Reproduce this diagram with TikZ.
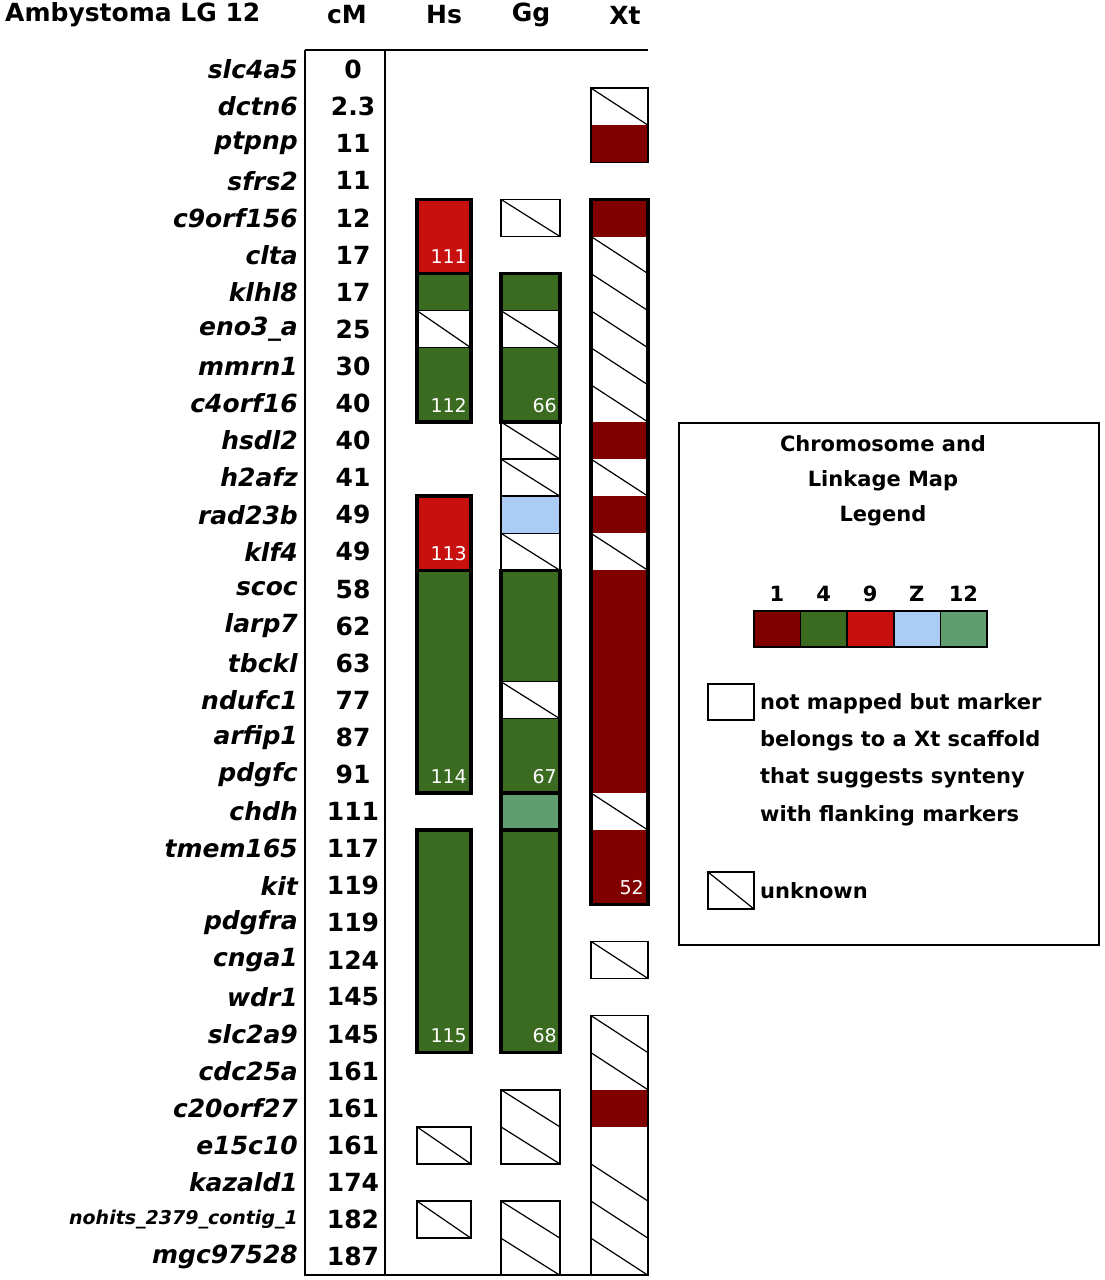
\documentclass[tikz,border=0pt]{standalone}
\usepackage{fontspec}
\setmainfont{DejaVu Sans}
\definecolor{cOne}{HTML}{800000}
\definecolor{cFour}{HTML}{3B6B21}
\definecolor{cNine}{HTML}{C8100F}
\definecolor{cZ}{HTML}{AACCF5}
\definecolor{cTwelve}{HTML}{5F9E6E}
\tikzset{marker/.style={font=\fontsize{25}{25}\selectfont\bfseries\itshape,anchor=east,inner sep=0pt}}
\tikzset{cmval/.style={font=\fontsize{25}{25}\selectfont\bfseries,inner sep=0pt}}
\tikzset{header/.style={font=\fontsize{25}{25}\selectfont\bfseries,inner sep=0pt}}
\tikzset{grouplbl/.style={font=\fontsize{19}{19}\selectfont,text=white,anchor=east,inner sep=0pt}}
\tikzset{legendtxt/.style={font=\fontsize{21}{21}\selectfont\bfseries,anchor=west,inner sep=0pt}}
\tikzset{bold box/.style={draw,line width=3.5pt}}
\tikzset{thin box/.style={draw,line width=1.5pt}}
\newcommand{\rowy}[1]{51+37.1*(#1)}
\begin{document}
\begin{tikzpicture}[x=1pt,y=-1pt]
  \useasboundingbox (0,0) rectangle (1104,1280);
  % headers and frame
  \node[header,anchor=west] (hAmb) at (5,15) {Ambystoma LG 12};
  \node[header] (hcM) at (347,15) {cM};
  \node[header] (hHs) at (444,15) {Hs};
  \node[header] (hGg) at (531,15) {Gg};
  \node[header] (hXt) at (625,15) {Xt};
  \draw[line width=1.5pt] (305,50) -- (648,50);
  \draw[line width=1.5pt] (305,50) -- (305,1275) -- (648,1275);
  \draw[line width=1.5pt] (385,50) -- (385,1275);
  % markers and positions
  \foreach \i/\m/\c in {0/slc4a5/0,1/dctn6/2.3,2/ptpnp/11,3/sfrs2/11,4/c9orf156/12,
      5/clta/17,6/klhl8/17,7/eno3\_a/25,8/mmrn1/30,9/c4orf16/40,10/hsdl2/40,
      11/h2afz/41,12/rad23b/49,13/klf4/49,14/scoc/58,15/larp7/62,16/tbckl/63,
      17/ndufc1/77,18/arfip1/87,19/pdgfc/91,20/chdh/111,21/tmem165/117,22/kit/119,
      23/pdgfra/119,24/cnga1/124,25/wdr1/145,26/slc2a9/145,27/cdc25a/161,
      28/c20orf27/161,29/e15c10/161,30/kazald1/174,32/mgc97528/187} {
    \node[marker] (m\i) at (298,{\rowy{\i+0.5}}) {\m};
    \node[cmval] (c\i) at (353,{\rowy{\i+0.5}}) {\c};
  }
  \node[marker,font=\fontsize{19}{19}\selectfont\bfseries\itshape] (m31) at (298,{\rowy{31.5}}) {nohits\_2379\_contig\_1};
  \node[cmval] (c31) at (353,{\rowy{31.5}}) {182};
  % coloured cells: x left/x right/row/colour
  \foreach \l/\r/\i/\col in {
      417/471/4/cNine,417/471/5/cNine,417/471/6/cFour,417/471/8/cFour,417/471/9/cFour,
      417/471/12/cNine,417/471/13/cNine,
      417/471/14/cFour,417/471/15/cFour,417/471/16/cFour,417/471/17/cFour,417/471/18/cFour,417/471/19/cFour,
      417/471/21/cFour,417/471/22/cFour,417/471/23/cFour,417/471/24/cFour,417/471/25/cFour,417/471/26/cFour,
      501/560/6/cFour,501/560/8/cFour,501/560/9/cFour,501/560/12/cZ,
      501/560/14/cFour,501/560/15/cFour,501/560/16/cFour,501/560/18/cFour,501/560/19/cFour,
      501/560/20/cTwelve,
      501/560/21/cFour,501/560/22/cFour,501/560/23/cFour,501/560/24/cFour,501/560/25/cFour,501/560/26/cFour,
      591/648/2/cOne,591/648/4/cOne,591/648/10/cOne,591/648/12/cOne,
      591/648/14/cOne,591/648/15/cOne,591/648/16/cOne,591/648/17/cOne,591/648/18/cOne,591/648/19/cOne,
      591/648/21/cOne,591/648/22/cOne,591/648/28/cOne}
    \fill[\col] (\l,{\rowy{\i}}) rectangle (\r,{\rowy{\i+1}});
  % unknown cells
  \foreach \l/\r/\i in {417/471/7,417/471/29,417/471/31,
      501/560/4,501/560/7,501/560/10,501/560/11,501/560/13,501/560/17,
      501/560/28,501/560/29,501/560/31,501/560/32,
      591/648/1,591/648/5,591/648/6,591/648/7,591/648/8,591/648/9,591/648/11,591/648/13,
      591/648/20,591/648/24,591/648/26,591/648/27,591/648/30,591/648/31,591/648/32}
    \draw[line width=1.2pt] (\l,{\rowy{\i}}) -- (\r,{\rowy{\i+1}});
  % separators inside groups
  \foreach \l/\r/\i in {417/471/7,417/471/8,501/560/7,501/560/8,501/560/17,501/560/18}
    \draw[line width=1pt] (\l,{\rowy{\i}}) -- (\r,{\rowy{\i}});
  % group borders: x left/x right/first row/last row
  \foreach \l/\r/\a/\b in {417/471/4/5,417/471/6/9,417/471/12/13,417/471/14/19,417/471/21/26,
      501/560/6/9,501/560/14/19,501/560/20/20,501/560/21/26,591/648/4/22}
    \draw[bold box] (\l,{\rowy{\a}}) rectangle (\r,{\rowy{\b+1}});
  \foreach \l/\r/\a/\b in {417/471/29/29,417/471/31/31,501/560/4/4,501/560/10/10,501/560/11/11,
      501/560/12/12,501/560/13/13,501/560/28/29,501/560/31/32,591/648/1/2,591/648/24/24,591/648/26/32}
    \draw[thin box] (\l,{\rowy{\a}}) rectangle (\r,{\rowy{\b+1}});
  % group numbers
  \foreach \x/\i/\t in {467/5/111,467/9/112,467/13/113,467/19/114,467/26/115,
      557/9/66,557/19/67,557/26/68,644/22/52}
    \node[grouplbl] (g\t) at (\x,{\rowy{\i+0.55}}) {\t};
  % legend
  \draw[line width=1.5pt] (679,423) rectangle (1099,945);
  \node[font=\fontsize{21}{21}\selectfont\bfseries,align=center,inner sep=0pt] (legtitle)
    at (883,481) {Chromosome and\\[14pt]Linkage Map\\[14pt]Legend};
  \foreach \k/\t/\col in {0/1/cOne,1/4/cFour,2/9/cNine,3/Z/cZ,4/12/cTwelve} {
    \fill[\col] ({754+46.6*\k},611) rectangle ({754+46.6*(\k+1)},647);
    \draw[line width=1.5pt] ({754+46.6*\k},611) rectangle ({754+46.6*(\k+1)},647);
    \node[font=\fontsize{21}{21}\selectfont\bfseries,inner sep=0pt] (sw\t) at ({777+46.6*\k},594) {\t};
  }
  \draw[line width=1.5pt] (708,684) rectangle (754,720);
  \node[legendtxt] (lnm1) at (760,704) {not mapped but marker};
  \node[legendtxt] (lnm2) at (760,741) {belongs to a Xt scaffold};
  \node[legendtxt] (lnm3) at (760,778) {that suggests synteny};
  \node[legendtxt] (lnm4) at (760,816) {with flanking markers};
  \draw[line width=1.5pt] (708,872) rectangle (754,909);
  \draw[line width=1.2pt] (708,872) -- (754,909);
  \node[legendtxt] (lunk) at (760,891) {unknown};
\end{tikzpicture}
\end{document}
